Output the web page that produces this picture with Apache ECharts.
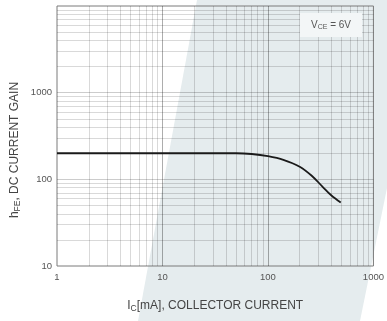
<!DOCTYPE html>
<html><head><meta charset="utf-8">
<script src="https://cdn.jsdelivr.net/npm/echarts@6/dist/echarts.min.js"></script>
<style>html,body{margin:0;padding:0;background:#fff}#c{width:387px;height:321px}</style>
</head><body><div id="c"></div>
<script>
// Data
const icValues = [1, 10, 50, 70, 100, 140, 200, 260, 330, 400, 490];
const hfeValues = [200, 200, 200, 196, 185, 168, 140, 110, 82, 65, 54];
const xTickLabels = [1, 10, 100, 1000];
const yTickLabels = [10, 100, 1000];
const xMinorGrid = [2,3,4,5,6,7,8,9,20,30,40,50,60,70,80,90,200,300,400,500,600,700,800,900];
const xMajorGrid = [10, 100];
const yMinorGrid = [20,30,40,50,60,70,80,90,200,300,400,500,600,700,800,900,2000,3000,4000,5000,6000,7000,8000,9000];
const yMajorGrid = [100, 1000];

const font = '"Liberation Sans", Arial, sans-serif';
const chart = echarts.init(document.getElementById('c'), null, {renderer: 'canvas'});
const gridLine = (arr, axis, color) => ({
  type: 'line', data: [], silent: true, symbol: 'none',
  markLine: {
    silent: true, symbol: 'none', animation: false, label: {show: false},
    lineStyle: {color: color, width: 1, type: 'solid'},
    emphasis: {disabled: true},
    data: arr.map(v => ({[axis]: v}))
  }
});
chart.setOption({
  animation: false,
  grid: {left: 57, right: 9, top: 6, bottom: 55, show: true, borderColor: '#7a7a7a', borderWidth: 1, backgroundColor: 'transparent'},
  xAxis: {
    type: 'log', logBase: 10, min: 1, max: 1000,
    axisLine: {show: false}, axisTick: {show: false}, splitLine: {show: false},
    axisLabel: {fontSize: 9.5, color: '#555', fontFamily: font, margin: 6,
      formatter: v => xTickLabels.includes(Math.round(v)) ? String(Math.round(v)) : ''},
    name: '{a|I}{s|C}{a|[mA], COLLECTOR CURRENT}', nameLocation: 'middle', nameGap: 33,
    nameTextStyle: {rich: {
      a: {fontSize: 12, color: '#444', fontFamily: font, lineHeight: 14},
      s: {fontSize: 8.5, color: '#444', fontFamily: font, verticalAlign: 'bottom', lineHeight: 11}
    }}
  },
  yAxis: {
    type: 'log', logBase: 10, min: 10, max: 10000,
    axisLine: {show: false}, axisTick: {show: false}, splitLine: {show: false},
    axisLabel: {fontSize: 9.5, color: '#555', fontFamily: font, margin: 5,
      formatter: v => yTickLabels.includes(Math.round(v)) ? String(Math.round(v)) : ''}
  },
  graphic: [
    {type: 'polygon', z: -10, silent: true,
      shape: {points: [[197, 0], [387, 0], [387, 188], [360, 321], [138, 321]]},
      style: {fill: '#e5ecee'}},
    {type: 'text', x: 15, y: 150, rotation: Math.PI / 2, silent: true,
      style: {text: '{a|h}{s|FE}{a|, DC CURRENT GAIN}', align: 'center', verticalAlign: 'middle',
        rich: {
          a: {fontSize: 12, fill: '#444', fontFamily: font, lineHeight: 14},
          s: {fontSize: 8.5, fill: '#444', fontFamily: font, verticalAlign: 'bottom', lineHeight: 11}
        }}},
    {type: 'rect', z: 50, silent: true, shape: {x: 300, y: 13, width: 62, height: 24},
      style: {fill: '#f3f6f7'}},
    {type: 'text', z: 51, x: 331, y: 25, silent: true,
      style: {text: '{a|V}{s|CE}{a| = 6V}', align: 'center', verticalAlign: 'middle',
        rich: {
          a: {fontSize: 10, fill: '#555', fontFamily: font, lineHeight: 12},
          s: {fontSize: 7, fill: '#555', fontFamily: font, verticalAlign: 'bottom', lineHeight: 9}
        }}}
  ],
  series: [
    gridLine(xMinorGrid, 'xAxis', 'rgba(0,0,0,0.15)'),
    gridLine(yMinorGrid, 'yAxis', 'rgba(0,0,0,0.15)'),
    gridLine(xMajorGrid, 'xAxis', 'rgba(0,0,0,0.32)'),
    gridLine(yMajorGrid, 'yAxis', 'rgba(0,0,0,0.2)'),
    {
      type: 'line', z: 10, symbol: 'none', smooth: 0.35,
      lineStyle: {color: '#1a1a1a', width: 1.8},
      data: icValues.map((x, i) => [x, hfeValues[i]])
    }
  ]
});
</script></body></html>
